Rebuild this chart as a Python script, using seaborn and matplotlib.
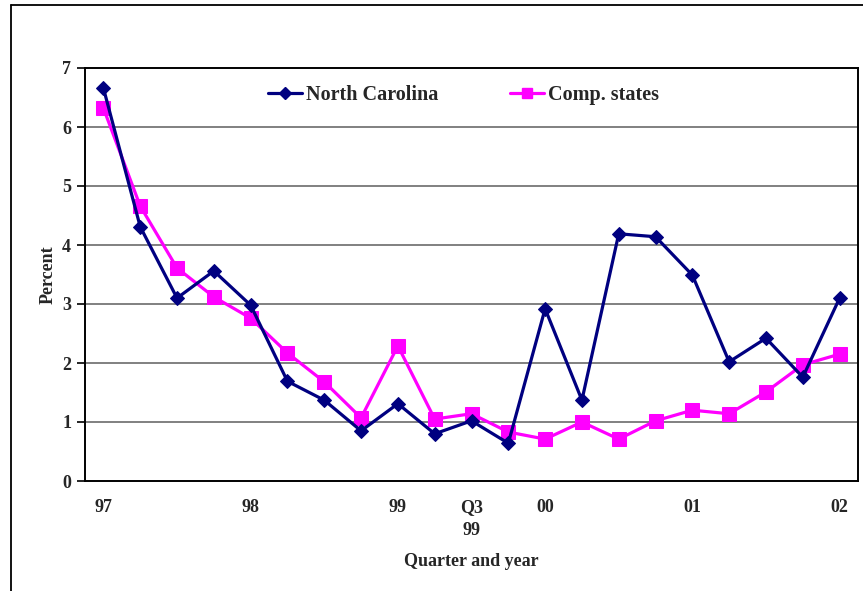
import matplotlib
matplotlib.use("Agg")
import matplotlib.pyplot as plt
from matplotlib.lines import Line2D
import numpy as np
import pandas as pd
import seaborn as sns

# Quarterly series, Q1 1997 through Q1 2002
north_carolina = [6.66, 4.31, 3.10, 3.56, 2.98, 1.69, 1.37, 0.85, 1.31, 0.80, 1.02,
                  0.64, 2.92, 1.37, 4.19, 4.14, 3.49, 2.02, 2.42, 1.76, 3.10]
comp_states = [6.32, 4.66, 3.61, 3.12, 2.76, 2.17, 1.68, 1.07, 2.29, 1.05, 1.14,
               0.83, 0.71, 1.00, 0.71, 1.02, 1.20, 1.14, 1.51, 1.97, 2.15]
tick_positions = [0, 4, 8, 10, 12, 16, 20]
tick_labels = ["97", "98", "99", "Q3\n99", "00", "01", "02"]
series_names = ["North Carolina", "Comp. states"]

n = len(north_carolina)
df = pd.DataFrame({
    "quarter": list(range(n)) * 2,
    "value": north_carolina + comp_states,
    "series": [series_names[0]] * n + [series_names[1]] * n,
})

sns.set_theme(style="white")
plt.rcParams["font.family"] = ["Liberation Serif", "DejaVu Serif"]
plt.rcParams["font.weight"] = "bold"

fig = plt.figure(figsize=(8.63, 5.91), dpi=100)
ax = fig.add_axes([85 / 863, 1 - 481 / 591, (858 - 85) / 863, (481 - 68) / 591])

# horizontal gridlines
for yv in range(1, 7):
    ax.axhline(yv, color="#808080", lw=1.4, zorder=0)

styles = {
    series_names[0]: dict(color="#000080", marker="D", ms=7.5),
    series_names[1]: dict(color="#FF00FF", marker="s", ms=9.5),
}
for name in series_names:
    sub = df[df["series"] == name]
    st = styles[name]
    sns.lineplot(data=sub, x="quarter", y="value", ax=ax, color=st["color"],
                 marker=st["marker"], markersize=st["ms"], markeredgecolor=st["color"],
                 linewidth=2.3, label=name, legend=False,
                 zorder=3 if name == series_names[0] else 2)

ax.set_xlim(-0.5, n - 0.5)
ax.set_ylim(0, 7)
ax.set_yticks(range(0, 8))
ax.set_yticklabels([str(v) for v in range(0, 8)], fontsize=13, fontweight="bold")
ax.set_xticks(tick_positions)
ax.set_xticklabels(tick_labels, fontsize=13, fontweight="bold", linespacing=1.45)
ax.set_xticks(np.arange(-0.5, n, 1.0), minor=True)
ax.tick_params(axis="x", which="major", length=0, pad=13)
ax.tick_params(axis="x", which="minor", length=5, width=1.2, color="black", direction="out")
ax.tick_params(axis="y", length=6, width=1.2, color="black", direction="out", left=True, pad=4)

for sp in ax.spines.values():
    sp.set_visible(True)
    sp.set_color("black")
    sp.set_linewidth(1.4)

ax.set_xlabel("Quarter and year", fontsize=13, fontweight="bold", labelpad=10)
ax.set_ylabel("Percent", fontsize=13, fontweight="bold", labelpad=4)

handles = [
    Line2D([], [], color=styles[s]["color"], marker=styles[s]["marker"],
           markersize=styles[s]["ms"] * 0.8, lw=2.3) for s in series_names
]
leg = ax.legend(handles, series_names, loc="upper center", bbox_to_anchor=(0.49, 1.003),
                ncol=2, frameon=False, prop={"weight": "bold", "size": 14.5},
                handlelength=1.7, handletextpad=0.2, columnspacing=3.55)

# outer frame of the chart area
fig.add_artist(Line2D([11 / 863, 1.0], [1 - 5 / 591, 1 - 5 / 591], color="black", lw=1.3,
                      transform=fig.transFigure))
fig.add_artist(Line2D([11 / 863, 11 / 863], [0, 1 - 5 / 591], color="black", lw=1.3,
                      transform=fig.transFigure))

fig.savefig("out.png", dpi=100)
